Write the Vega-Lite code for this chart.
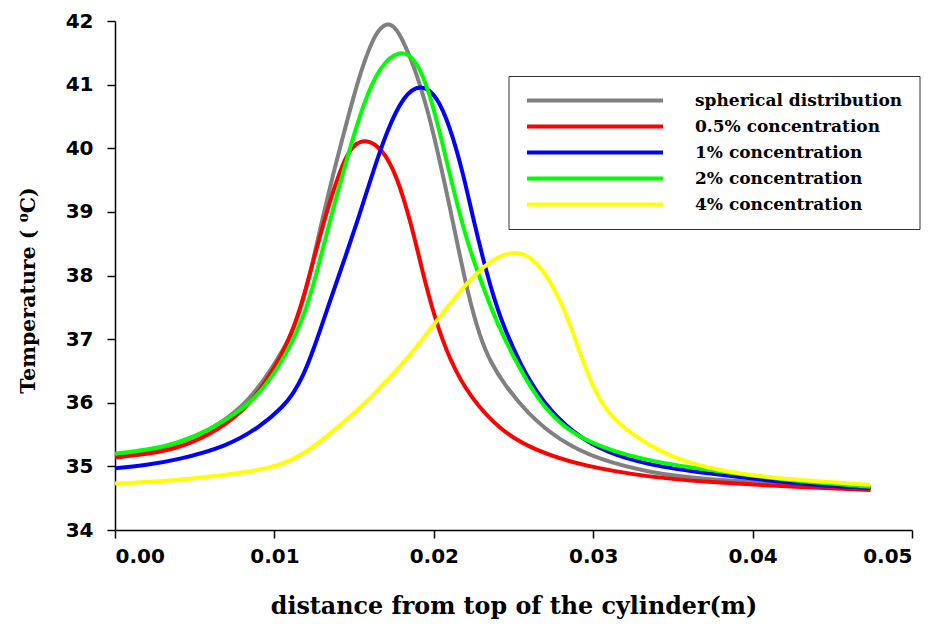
{
  "$schema": "https://vega.github.io/schema/vega-lite/v6.json",
  "width": 797,
  "height": 509,
  "autosize": "none",
  "padding": {"left": 115, "top": 21, "right": 25, "bottom": 96},
  "background": "white",
  "config": {"view": {"stroke": null}},
  "data": {"values": [
    {"d": 0, "T": 35.18, "s": "spherical distribution"},
    {"d": 0.002, "T": 35.24, "s": "spherical distribution"},
    {"d": 0.004, "T": 35.36, "s": "spherical distribution"},
    {"d": 0.006, "T": 35.57, "s": "spherical distribution"},
    {"d": 0.008, "T": 35.93, "s": "spherical distribution"},
    {"d": 0.0093, "T": 36.33, "s": "spherical distribution"},
    {"d": 0.011, "T": 37.0, "s": "spherical distribution"},
    {"d": 0.0118, "T": 37.58, "s": "spherical distribution"},
    {"d": 0.01244, "T": 38.25, "s": "spherical distribution"},
    {"d": 0.01307, "T": 38.95, "s": "spherical distribution"},
    {"d": 0.0137, "T": 39.61, "s": "spherical distribution"},
    {"d": 0.01432, "T": 40.2, "s": "spherical distribution"},
    {"d": 0.01495, "T": 40.8, "s": "spherical distribution"},
    {"d": 0.01558, "T": 41.33, "s": "spherical distribution"},
    {"d": 0.0162, "T": 41.72, "s": "spherical distribution"},
    {"d": 0.0166, "T": 41.88, "s": "spherical distribution"},
    {"d": 0.0171, "T": 41.97, "s": "spherical distribution"},
    {"d": 0.0176, "T": 41.9, "s": "spherical distribution"},
    {"d": 0.0181, "T": 41.68, "s": "spherical distribution"},
    {"d": 0.0189, "T": 41.2, "s": "spherical distribution"},
    {"d": 0.0198, "T": 40.44, "s": "spherical distribution"},
    {"d": 0.0206, "T": 39.55, "s": "spherical distribution"},
    {"d": 0.0214, "T": 38.6, "s": "spherical distribution"},
    {"d": 0.0221, "T": 37.75, "s": "spherical distribution"},
    {"d": 0.0229, "T": 37.02, "s": "spherical distribution"},
    {"d": 0.0236, "T": 36.62, "s": "spherical distribution"},
    {"d": 0.0244, "T": 36.3, "s": "spherical distribution"},
    {"d": 0.0258, "T": 35.85, "s": "spherical distribution"},
    {"d": 0.0279, "T": 35.4, "s": "spherical distribution"},
    {"d": 0.0304, "T": 35.1, "s": "spherical distribution"},
    {"d": 0.0336, "T": 34.9, "s": "spherical distribution"},
    {"d": 0.0367, "T": 34.8, "s": "spherical distribution"},
    {"d": 0.043, "T": 34.71, "s": "spherical distribution"},
    {"d": 0.0474, "T": 34.67, "s": "spherical distribution"},

    {"d": 0, "T": 35.14, "s": "0.5% concentration"},
    {"d": 0.002, "T": 35.19, "s": "0.5% concentration"},
    {"d": 0.00387, "T": 35.28, "s": "0.5% concentration"},
    {"d": 0.00596, "T": 35.49, "s": "0.5% concentration"},
    {"d": 0.00805, "T": 35.86, "s": "0.5% concentration"},
    {"d": 0.0093, "T": 36.26, "s": "0.5% concentration"},
    {"d": 0.01077, "T": 36.88, "s": "0.5% concentration"},
    {"d": 0.0116, "T": 37.45, "s": "0.5% concentration"},
    {"d": 0.01244, "T": 38.22, "s": "0.5% concentration"},
    {"d": 0.01328, "T": 39.02, "s": "0.5% concentration"},
    {"d": 0.01432, "T": 39.8, "s": "0.5% concentration"},
    {"d": 0.01495, "T": 40.06, "s": "0.5% concentration"},
    {"d": 0.0158, "T": 40.15, "s": "0.5% concentration"},
    {"d": 0.0168, "T": 39.98, "s": "0.5% concentration"},
    {"d": 0.01767, "T": 39.58, "s": "0.5% concentration"},
    {"d": 0.0186, "T": 38.8, "s": "0.5% concentration"},
    {"d": 0.0193, "T": 38.05, "s": "0.5% concentration"},
    {"d": 0.02, "T": 37.38, "s": "0.5% concentration"},
    {"d": 0.021, "T": 36.66, "s": "0.5% concentration"},
    {"d": 0.0223, "T": 36.08, "s": "0.5% concentration"},
    {"d": 0.02415, "T": 35.57, "s": "0.5% concentration"},
    {"d": 0.02624, "T": 35.26, "s": "0.5% concentration"},
    {"d": 0.0294, "T": 35.0, "s": "0.5% concentration"},
    {"d": 0.0336, "T": 34.83, "s": "0.5% concentration"},
    {"d": 0.0367, "T": 34.76, "s": "0.5% concentration"},
    {"d": 0.043, "T": 34.67, "s": "0.5% concentration"},
    {"d": 0.0474, "T": 34.63, "s": "0.5% concentration"},

    {"d": 0, "T": 34.97, "s": "1% concentration"},
    {"d": 0.002, "T": 35.02, "s": "1% concentration"},
    {"d": 0.00387, "T": 35.1, "s": "1% concentration"},
    {"d": 0.007, "T": 35.31, "s": "1% concentration"},
    {"d": 0.0091, "T": 35.62, "s": "1% concentration"},
    {"d": 0.01056, "T": 35.94, "s": "1% concentration"},
    {"d": 0.0112, "T": 36.15, "s": "1% concentration"},
    {"d": 0.0118, "T": 36.42, "s": "1% concentration"},
    {"d": 0.01244, "T": 36.82, "s": "1% concentration"},
    {"d": 0.01349, "T": 37.6, "s": "1% concentration"},
    {"d": 0.01453, "T": 38.35, "s": "1% concentration"},
    {"d": 0.01537, "T": 38.98, "s": "1% concentration"},
    {"d": 0.0162, "T": 39.64, "s": "1% concentration"},
    {"d": 0.01704, "T": 40.26, "s": "1% concentration"},
    {"d": 0.01809, "T": 40.83, "s": "1% concentration"},
    {"d": 0.0192, "T": 41.02, "s": "1% concentration"},
    {"d": 0.0202, "T": 40.82, "s": "1% concentration"},
    {"d": 0.021, "T": 40.35, "s": "1% concentration"},
    {"d": 0.02185, "T": 39.6, "s": "1% concentration"},
    {"d": 0.02248, "T": 38.88, "s": "1% concentration"},
    {"d": 0.02332, "T": 38.03, "s": "1% concentration"},
    {"d": 0.02415, "T": 37.33, "s": "1% concentration"},
    {"d": 0.02541, "T": 36.6, "s": "1% concentration"},
    {"d": 0.02687, "T": 35.99, "s": "1% concentration"},
    {"d": 0.02875, "T": 35.52, "s": "1% concentration"},
    {"d": 0.03085, "T": 35.21, "s": "1% concentration"},
    {"d": 0.03356, "T": 35.02, "s": "1% concentration"},
    {"d": 0.0367, "T": 34.9, "s": "1% concentration"},
    {"d": 0.043, "T": 34.72, "s": "1% concentration"},
    {"d": 0.0474, "T": 34.66, "s": "1% concentration"},

    {"d": 0, "T": 35.2, "s": "2% concentration"},
    {"d": 0.002, "T": 35.26, "s": "2% concentration"},
    {"d": 0.00387, "T": 35.36, "s": "2% concentration"},
    {"d": 0.00596, "T": 35.57, "s": "2% concentration"},
    {"d": 0.00805, "T": 35.91, "s": "2% concentration"},
    {"d": 0.00889, "T": 36.1, "s": "2% concentration"},
    {"d": 0.01035, "T": 36.57, "s": "2% concentration"},
    {"d": 0.01181, "T": 37.3, "s": "2% concentration"},
    {"d": 0.01265, "T": 38.03, "s": "2% concentration"},
    {"d": 0.01349, "T": 38.87, "s": "2% concentration"},
    {"d": 0.01453, "T": 39.82, "s": "2% concentration"},
    {"d": 0.01558, "T": 40.71, "s": "2% concentration"},
    {"d": 0.01662, "T": 41.3, "s": "2% concentration"},
    {"d": 0.0179, "T": 41.56, "s": "2% concentration"},
    {"d": 0.0189, "T": 41.4, "s": "2% concentration"},
    {"d": 0.01976, "T": 40.86, "s": "2% concentration"},
    {"d": 0.0206, "T": 40.02, "s": "2% concentration"},
    {"d": 0.02144, "T": 39.13, "s": "2% concentration"},
    {"d": 0.0222, "T": 38.45, "s": "2% concentration"},
    {"d": 0.0229, "T": 37.95, "s": "2% concentration"},
    {"d": 0.02395, "T": 37.25, "s": "2% concentration"},
    {"d": 0.0252, "T": 36.62, "s": "2% concentration"},
    {"d": 0.02666, "T": 35.99, "s": "2% concentration"},
    {"d": 0.02834, "T": 35.57, "s": "2% concentration"},
    {"d": 0.03043, "T": 35.3, "s": "2% concentration"},
    {"d": 0.03356, "T": 35.07, "s": "2% concentration"},
    {"d": 0.03879, "T": 34.89, "s": "2% concentration"},
    {"d": 0.043, "T": 34.76, "s": "2% concentration"},
    {"d": 0.0474, "T": 34.68, "s": "2% concentration"},

    {"d": 0, "T": 34.73, "s": "4% concentration"},
    {"d": 0.003, "T": 34.76, "s": "4% concentration"},
    {"d": 0.006, "T": 34.84, "s": "4% concentration"},
    {"d": 0.0085, "T": 34.92, "s": "4% concentration"},
    {"d": 0.01014, "T": 35.0, "s": "4% concentration"},
    {"d": 0.01181, "T": 35.18, "s": "4% concentration"},
    {"d": 0.01328, "T": 35.47, "s": "4% concentration"},
    {"d": 0.01537, "T": 35.91, "s": "4% concentration"},
    {"d": 0.0165, "T": 36.2, "s": "4% concentration"},
    {"d": 0.01788, "T": 36.57, "s": "4% concentration"},
    {"d": 0.01893, "T": 36.88, "s": "4% concentration"},
    {"d": 0.01997, "T": 37.22, "s": "4% concentration"},
    {"d": 0.021, "T": 37.55, "s": "4% concentration"},
    {"d": 0.02206, "T": 37.88, "s": "4% concentration"},
    {"d": 0.02353, "T": 38.24, "s": "4% concentration"},
    {"d": 0.025, "T": 38.4, "s": "4% concentration"},
    {"d": 0.02624, "T": 38.28, "s": "4% concentration"},
    {"d": 0.02729, "T": 37.93, "s": "4% concentration"},
    {"d": 0.0283, "T": 37.4, "s": "4% concentration"},
    {"d": 0.0288, "T": 37.05, "s": "4% concentration"},
    {"d": 0.0294, "T": 36.62, "s": "4% concentration"},
    {"d": 0.03, "T": 36.25, "s": "4% concentration"},
    {"d": 0.0306, "T": 35.97, "s": "4% concentration"},
    {"d": 0.0313, "T": 35.75, "s": "4% concentration"},
    {"d": 0.0321, "T": 35.57, "s": "4% concentration"},
    {"d": 0.0336, "T": 35.32, "s": "4% concentration"},
    {"d": 0.0352, "T": 35.12, "s": "4% concentration"},
    {"d": 0.03775, "T": 34.94, "s": "4% concentration"},
    {"d": 0.04088, "T": 34.82, "s": "4% concentration"},
    {"d": 0.0474, "T": 34.71, "s": "4% concentration"}
  ]},
  "mark": {"type": "line", "strokeWidth": 4, "interpolate": "basis"},
  "encoding": {
    "x": {
      "field": "d", "type": "quantitative",
      "scale": {"domain": [0, 0.05], "nice": false, "zero": false},
      "axis": {
        "title": "distance from top of the cylinder(m)",
        "values": [0, 0.01, 0.02, 0.03, 0.04, 0.05],
        "format": ".2f",
        "grid": false,
        "domainColor": "black", "domainWidth": 1.5,
        "tickColor": "black", "tickWidth": 1.5, "tickSize": 8,
        "labelFont": "DejaVu Sans", "labelFontWeight": "bold", "labelFontSize": 20, "labelColor": "black",
        "labelPadding": 8,
        "titleFont": "DejaVu Serif", "titleFontWeight": "bold", "titleFontSize": 23.8, "titleColor": "black",
        "titlePadding": 28
      }
    },
    "y": {
      "field": "T", "type": "quantitative",
      "scale": {"domain": [34, 42], "nice": false, "zero": false},
      "axis": {
        "title": "Temperature ( ⁰C)",
        "values": [34, 35, 36, 37, 38, 39, 40, 41, 42],
        "format": "d",
        "grid": false,
        "domainColor": "black", "domainWidth": 1.5,
        "tickColor": "black", "tickWidth": 1.5, "tickSize": 8,
        "labelFont": "DejaVu Sans", "labelFontWeight": "bold", "labelFontSize": 20, "labelColor": "black",
        "labelPadding": 14,
        "titleFont": "DejaVu Serif", "titleFontWeight": "bold", "titleFontSize": 20.5, "titleColor": "black",
        "titlePadding": 27,
        "titleY": 269
      }
    },
    "color": {
      "field": "s", "type": "nominal",
      "sort": ["spherical distribution", "0.5% concentration", "1% concentration", "2% concentration", "4% concentration"],
      "scale": {
        "domain": ["spherical distribution", "0.5% concentration", "1% concentration", "2% concentration", "4% concentration"],
        "range": ["#808080", "#ff0000", "#0000ff", "#00ff00", "#ffff00"]
      },
      "legend": {
        "title": null,
        "orient": "none",
        "legendX": 393.5,
        "legendY": 55,
        "symbolType": "stroke",
        "symbolSize": 18496,
        "symbolStrokeWidth": 4,
        "clipHeight": 16,
        "labelFont": "DejaVu Serif", "labelFontWeight": "bold", "labelFontSize": 17, "labelColor": "black",
        "labelOffset": 30,
        "labelLimit": 400,
        "rowPadding": 9,
        "padding": 16.5,
        "strokeColor": "#333333",
        "fillColor": "white"
      }
    }
  }
}
